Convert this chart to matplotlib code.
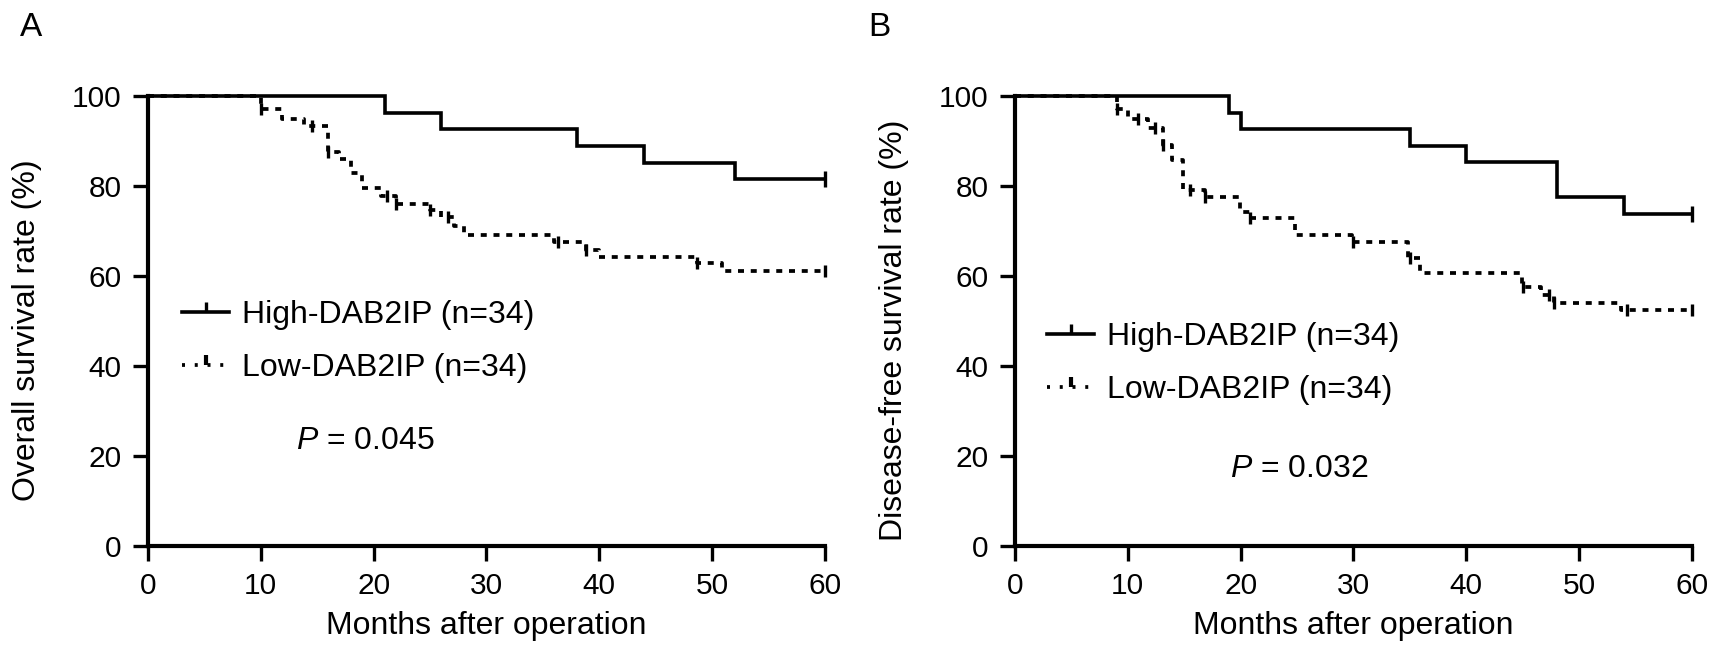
import numpy as np
import matplotlib
matplotlib.use('Agg')
import matplotlib.pyplot as plt
from matplotlib.lines import Line2D

plt.rcParams['font.family'] = ['Liberation Sans', 'DejaVu Sans']
plt.rcParams['mathtext.fontset'] = 'custom'
plt.rcParams['mathtext.rm'] = 'Liberation Sans'
plt.rcParams['mathtext.it'] = 'Liberation Sans:italic'

# ---------------- data ----------------
months_ticks = [0, 10, 20, 30, 40, 50, 60]
rate_ticks = [0, 20, 40, 60, 80, 100]

# Panel A: overall survival
a_high_t = [21, 26, 38, 44, 52]
a_high_s = [96.3, 92.6, 88.9, 85.2, 81.5]
a_high_c = [60]
a_low_t = [10, 11.9, 13.8, 16.0, 16.9, 18.0, 19.0, 20.7, 22.0, 25.0, 26.0, 27.1,
           28.0, 36.0, 38.8, 40.0, 48.7, 50.9]
a_low_s = [97.1, 94.8, 93.3, 87.6, 86.1, 82.8, 79.5, 77.8, 76.1, 74.7, 73.2, 71.0,
           69.1, 67.6, 65.8, 64.3, 62.8, 61.0]
a_low_c = [10, 14.5, 16.0, 21.2, 22.0, 25.0, 26.6, 36.3, 38.8, 48.7, 60]

# Panel B: disease-free survival
b_high_t = [19, 20, 35, 40, 48, 54]
b_high_s = [96.3, 92.6, 88.9, 85.4, 77.6, 73.8]
b_high_c = [60]
b_low_t = [9, 10, 11.8, 13.1, 13.9, 14.9, 16.8, 19.9, 20.8, 24.8, 29.9, 34.8,
           35.9, 44.9, 46.6, 47.8, 53.7]
b_low_s = [97.1, 94.8, 93.0, 89.1, 85.8, 79.1, 77.6, 74.3, 72.8, 69.1, 67.5, 63.9,
           60.7, 57.6, 55.8, 54.1, 52.4]
b_low_c = [9, 10.9, 12.4, 13.1, 15.5, 16.8, 20.8, 30.0, 35.0, 45.0, 47.3, 47.8,
           54.2, 60]

label_high = 'High-DAB2IP (n=34)'
label_low = 'Low-DAB2IP (n=34)'
xlabel = 'Months after operation'
ylabel_a = 'Overall survival rate (%)'
ylabel_b = 'Disease-free survival rate (%)'
p_a = r'$\it{P}$ = 0.045'
p_b = r'$\it{P}$ = 0.032'

# ---------------- drawing ----------------
FS_TICK = 21.5
FS_LAB = 23
LW_SPINE = 3.0
LW_HIGH = 2.6
LW_LOW = 2.7
LOW_DASH = (0, (1.6, 1.8))


def km_xy(t, s, tmax=60):
    x = np.concatenate([[0], t, [tmax]])
    y = np.concatenate([[100], s, [s[-1]]])
    return x, y


def surv_at(t, s, c):
    t = np.asarray(t)
    s = np.asarray(s)
    idx = np.searchsorted(t, c, side='right') - 1
    return np.where(idx >= 0, s[np.clip(idx, 0, None)], 100.0)


fig = plt.figure(figsize=(17.2, 6.63), dpi=100)
axA = fig.add_axes([0.0860, 0.1765, 0.3936, 0.6787])
axB = fig.add_axes([0.5901, 0.1765, 0.3936, 0.6787])


def draw(ax, ht, hs, hc, lt, ls, lc, ylabel, ptext, p_xy, leg_xy):
    x, y = km_xy(ht, hs)
    ax.step(x, y, where='post', color='black', lw=LW_HIGH, clip_on=False,
            solid_joinstyle='miter', zorder=3)
    ax.plot(hc, surv_at(ht, hs, hc), ls='none', marker='|', ms=11, mew=2.4,
            color='black', clip_on=False, zorder=3)
    x, y = km_xy(lt, ls)
    ax.step(x, y, where='post', color='black', lw=LW_LOW, ls=LOW_DASH,
            clip_on=False, zorder=2)
    ax.plot(lc, surv_at(lt, ls, lc), ls='none', marker='|', ms=9, mew=2.4,
            color='black', clip_on=False, zorder=2)

    ax.set_xlim(0, 60)
    ax.set_ylim(0, 100)
    ax.set_xticks(months_ticks)
    ax.set_yticks(rate_ticks)
    for sp in ['top', 'right']:
        ax.spines[sp].set_visible(False)
    for sp in ['left', 'bottom']:
        ax.spines[sp].set_linewidth(LW_SPINE)
    ax.tick_params(axis='both', direction='out', length=10.8, width=2.4,
                   labelsize=FS_TICK)
    ax.tick_params(axis='x', pad=8)
    ax.tick_params(axis='y', pad=8)
    ax.set_xlabel(xlabel, fontsize=FS_LAB, labelpad=8)
    ax.set_ylabel(ylabel, fontsize=FS_LAB)
    ax.yaxis.set_label_coords(-0.157, 0.48)

    h_high = Line2D([], [], color='black', lw=LW_HIGH, marker=2, ms=7, mew=2.4)
    h_low = Line2D([], [], color='black', lw=LW_LOW, ls=(0, (0.8, 2.6)),
                   marker=2, ms=7, mew=3.0)
    ax.legend([h_high, h_low], [label_high, label_low], loc='upper left',
              bbox_to_anchor=leg_xy, frameon=False, fontsize=FS_LAB,
              handlelength=1.45, handletextpad=0.4, labelspacing=0.72,
              borderpad=0, borderaxespad=0, numpoints=1)
    ax.text(p_xy[0], p_xy[1], ptext, fontsize=FS_LAB, ha='left', va='center')


draw(axA, a_high_t, a_high_s, a_high_c, a_low_t, a_low_s, a_low_c,
     ylabel_a, p_a, (13.1, 23.3), (0.051, 0.547))
draw(axB, b_high_t, b_high_s, b_high_c, b_low_t, b_low_s, b_low_c,
     ylabel_b, p_b, (19.1, 17.2), (0.048, 0.497))

fig.text(0.018, 0.959, 'A', fontsize=24, ha='center', va='center')
fig.text(0.511, 0.959, 'B', fontsize=24, ha='center', va='center')

fig.savefig('out.png', dpi=100)
